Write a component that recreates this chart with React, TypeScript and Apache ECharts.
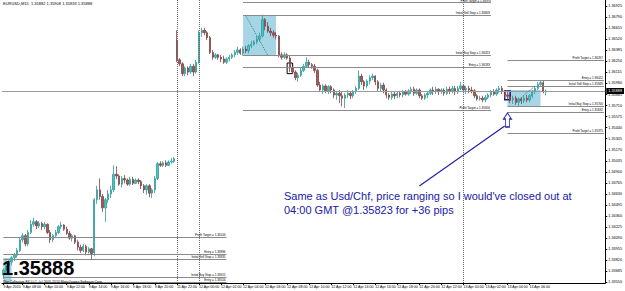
import React, { useEffect, useRef } from "react";
import * as echarts from "echarts";

// [open, close, low, high] — EURUSD M15, 9 Apr 06:15 .. 13 Apr 07:30
const ohlc: number[][] = [
  [1.3364, 1.3370, 1.3359, 1.3372], [1.3370, 1.3375, 1.3366, 1.3377], [1.3375, 1.3380, 1.3371, 1.3382], [1.3380, 1.3385, 1.3376, 1.3387],
  [1.3385, 1.3388, 1.3381, 1.3391], [1.3388, 1.3394, 1.3385, 1.3397], [1.3394, 1.3407, 1.3392, 1.3409], [1.3407, 1.3412, 1.3404, 1.3415],
  [1.3412, 1.3402, 1.3399, 1.3414], [1.3402, 1.3416, 1.3399, 1.3419], [1.3416, 1.3426, 1.3414, 1.3431], [1.3426, 1.3429, 1.3423, 1.3434],
  [1.3429, 1.3424, 1.3420, 1.3431], [1.3424, 1.3427, 1.3421, 1.3430], [1.3427, 1.3423, 1.3419, 1.3429], [1.3423, 1.3426, 1.3420, 1.3429],
  [1.3426, 1.3416, 1.3414, 1.3427], [1.3416, 1.3407, 1.3403, 1.3419], [1.3407, 1.3412, 1.3404, 1.3414], [1.3412, 1.3416, 1.3409, 1.3419],
  [1.3416, 1.3423, 1.3414, 1.3425], [1.3423, 1.3425, 1.3420, 1.3429], [1.3425, 1.3420, 1.3418, 1.3426], [1.3420, 1.3415, 1.3413, 1.3423],
  [1.3415, 1.3409, 1.3407, 1.3418], [1.3409, 1.3412, 1.3405, 1.3414], [1.3412, 1.3404, 1.3402, 1.3413], [1.3404, 1.3398, 1.3394, 1.3407],
  [1.3398, 1.3394, 1.3391, 1.3401], [1.3394, 1.3399, 1.3392, 1.3402], [1.3399, 1.3392, 1.3388, 1.3401], [1.3392, 1.3396, 1.3390, 1.3398],
  [1.3396, 1.3390, 1.3383, 1.3397], [1.3391, 1.3456, 1.3387, 1.3458], [1.3456, 1.3468, 1.3451, 1.3473], [1.3468, 1.3460, 1.3456, 1.3482],
  [1.3460, 1.3446, 1.3441, 1.3463], [1.3446, 1.3456, 1.3429, 1.3458], [1.3456, 1.3463, 1.3452, 1.3468], [1.3463, 1.3468, 1.3458, 1.3473],
  [1.3468, 1.3487, 1.3465, 1.3498], [1.3487, 1.3485, 1.3481, 1.3497], [1.3485, 1.3475, 1.3473, 1.3487], [1.3475, 1.3482, 1.3471, 1.3485],
  [1.3482, 1.3480, 1.3476, 1.3486], [1.3480, 1.3475, 1.3473, 1.3482], [1.3475, 1.3481, 1.3473, 1.3484], [1.3481, 1.3476, 1.3474, 1.3484],
  [1.3476, 1.3480, 1.3475, 1.3482], [1.3480, 1.3478, 1.3475, 1.3482], [1.3478, 1.3473, 1.3469, 1.3480], [1.3473, 1.3468, 1.3464, 1.3475],
  [1.3468, 1.3473, 1.3462, 1.3475], [1.3473, 1.3464, 1.3459, 1.3475], [1.3464, 1.3468, 1.3458, 1.3470], [1.3468, 1.3482, 1.3464, 1.3485],
  [1.3482, 1.3500, 1.3480, 1.3502], [1.3500, 1.3498, 1.3496, 1.3503], [1.3498, 1.3501, 1.3496, 1.3503], [1.3501, 1.3498, 1.3496, 1.3504],
  [1.3498, 1.3502, 1.3497, 1.3504], [1.3502, 1.3503, 1.3500, 1.3507], [1.3503, 1.3506, 1.3501, 1.3508],
  [1.3651, 1.3627, 1.3624, 1.3663], [1.3627, 1.3622, 1.3619, 1.3629], [1.3622, 1.3610, 1.3607, 1.3624], [1.3610, 1.3617, 1.3607, 1.3619],
  [1.3617, 1.3612, 1.3608, 1.3619], [1.3612, 1.3619, 1.3610, 1.3622], [1.3619, 1.3612, 1.3607, 1.3622], [1.3612, 1.3624, 1.3610, 1.3627],
  [1.3624, 1.3660, 1.3622, 1.3663], [1.3660, 1.3663, 1.3655, 1.3666], [1.3663, 1.3660, 1.3657, 1.3666], [1.3660, 1.3654, 1.3651, 1.3662],
  [1.3654, 1.3636, 1.3634, 1.3656], [1.3636, 1.3630, 1.3627, 1.3639], [1.3630, 1.3633, 1.3628, 1.3635], [1.3633, 1.3630, 1.3627, 1.3634],
  [1.3630, 1.3628, 1.3624, 1.3633], [1.3628, 1.3624, 1.3622, 1.3632], [1.3624, 1.3628, 1.3622, 1.3630], [1.3628, 1.3630, 1.3625, 1.3633],
  [1.3630, 1.3633, 1.3628, 1.3635], [1.3633, 1.3636, 1.3630, 1.3639], [1.3636, 1.3639, 1.3633, 1.3643], [1.3639, 1.3635, 1.3633, 1.3641],
  [1.3635, 1.3640, 1.3632, 1.3643], [1.3640, 1.3638, 1.3635, 1.3644], [1.3638, 1.3644, 1.3635, 1.3646], [1.3644, 1.3646, 1.3641, 1.3650],
  [1.3646, 1.3649, 1.3644, 1.3651], [1.3649, 1.3652, 1.3646, 1.3656], [1.3652, 1.3656, 1.3649, 1.3660], [1.3656, 1.3676, 1.3654, 1.3682],
  [1.3676, 1.3668, 1.3663, 1.3678], [1.3668, 1.3662, 1.3660, 1.3673], [1.3662, 1.3660, 1.3656, 1.3666], [1.3660, 1.3657, 1.3654, 1.3663],
  [1.3657, 1.3656, 1.3652, 1.3661], [1.3656, 1.3633, 1.3630, 1.3657], [1.3633, 1.3630, 1.3627, 1.3636], [1.3630, 1.3633, 1.3628, 1.3636],
  [1.3633, 1.3629, 1.3627, 1.3635], [1.3629, 1.3617, 1.3612, 1.3632], [1.3617, 1.3612, 1.3610, 1.3619], [1.3612, 1.3605, 1.3602, 1.3614],
  [1.3605, 1.3608, 1.3600, 1.3611], [1.3608, 1.3614, 1.3606, 1.3617], [1.3614, 1.3619, 1.3612, 1.3622], [1.3619, 1.3624, 1.3617, 1.3630],
  [1.3624, 1.3621, 1.3618, 1.3627], [1.3621, 1.3619, 1.3616, 1.3623], [1.3619, 1.3614, 1.3611, 1.3622], [1.3614, 1.3596, 1.3594, 1.3616],
  [1.3596, 1.3590, 1.3588, 1.3600], [1.3590, 1.3595, 1.3585, 1.3597], [1.3595, 1.3589, 1.3586, 1.3597], [1.3589, 1.3594, 1.3585, 1.3596],
  [1.3594, 1.3590, 1.3586, 1.3596], [1.3590, 1.3584, 1.3580, 1.3592], [1.3584, 1.3586, 1.3578, 1.3589], [1.3586, 1.3583, 1.3574, 1.3590],
  [1.3583, 1.3580, 1.3570, 1.3588], [1.3580, 1.3584, 1.3568, 1.3586], [1.3584, 1.3586, 1.3580, 1.3590], [1.3586, 1.3583, 1.3579, 1.3589],
  [1.3583, 1.3588, 1.3580, 1.3590], [1.3588, 1.3592, 1.3585, 1.3595], [1.3592, 1.3607, 1.3590, 1.3614], [1.3607, 1.3600, 1.3596, 1.3610],
  [1.3600, 1.3595, 1.3590, 1.3602], [1.3595, 1.3601, 1.3592, 1.3603], [1.3601, 1.3605, 1.3597, 1.3608], [1.3605, 1.3607, 1.3602, 1.3610],
  [1.3607, 1.3600, 1.3596, 1.3608], [1.3600, 1.3592, 1.3589, 1.3602], [1.3592, 1.3596, 1.3588, 1.3599], [1.3596, 1.3590, 1.3586, 1.3599],
  [1.3590, 1.3584, 1.3580, 1.3592], [1.3584, 1.3581, 1.3578, 1.3586], [1.3581, 1.3585, 1.3578, 1.3588], [1.3585, 1.3583, 1.3579, 1.3588],
  [1.3583, 1.3586, 1.3580, 1.3589], [1.3586, 1.3584, 1.3581, 1.3589], [1.3584, 1.3588, 1.3581, 1.3590], [1.3588, 1.3585, 1.3583, 1.3590],
  [1.3585, 1.3589, 1.3583, 1.3591], [1.3589, 1.3591, 1.3585, 1.3594], [1.3591, 1.3586, 1.3583, 1.3594], [1.3586, 1.3590, 1.3584, 1.3592],
  [1.3590, 1.3583, 1.3580, 1.3592], [1.3583, 1.3580, 1.3578, 1.3585], [1.3580, 1.3584, 1.3578, 1.3586], [1.3584, 1.3586, 1.3580, 1.3589],
  [1.3586, 1.3590, 1.3584, 1.3592], [1.3590, 1.3588, 1.3584, 1.3594], [1.3588, 1.3591, 1.3585, 1.3594], [1.3591, 1.3588, 1.3584, 1.3592],
  [1.3588, 1.3590, 1.3585, 1.3592], [1.3590, 1.3586, 1.3583, 1.3592], [1.3586, 1.3591, 1.3584, 1.3594], [1.3591, 1.3589, 1.3585, 1.3594],
  [1.3589, 1.3592, 1.3586, 1.3595], [1.3592, 1.3588, 1.3584, 1.3595], [1.3588, 1.3592, 1.3585, 1.3595], [1.3592, 1.3595, 1.3590, 1.3600],
  [1.3595, 1.3590, 1.3586, 1.3597], [1.3590, 1.3592, 1.3585, 1.3595], [1.3592, 1.3590, 1.3586, 1.3595], [1.3590, 1.3589, 1.3586, 1.3594],
  [1.3589, 1.3583, 1.3580, 1.3591], [1.3583, 1.3579, 1.3577, 1.3585], [1.3579, 1.3580, 1.3577, 1.3583], [1.3580, 1.3578, 1.3575, 1.3583],
  [1.3578, 1.3581, 1.3575, 1.3584], [1.3581, 1.3584, 1.3579, 1.3586], [1.3584, 1.3588, 1.3581, 1.3590], [1.3588, 1.3585, 1.3583, 1.3591],
  [1.3585, 1.3590, 1.3583, 1.3592], [1.3590, 1.3592, 1.3586, 1.3595], [1.3592, 1.3588, 1.3585, 1.3595], [1.3588, 1.3584, 1.3580, 1.3590],
  [1.3584, 1.35823, 1.3578, 1.3588], [1.3582, 1.3578, 1.3574, 1.3585], [1.3578, 1.3580, 1.3573, 1.3583], [1.3580, 1.3575, 1.3572, 1.3583],
  [1.3575, 1.3579, 1.3570, 1.3581], [1.3579, 1.3577, 1.3573, 1.3581], [1.3577, 1.3580, 1.3574, 1.3583], [1.3580, 1.3578, 1.3575, 1.3584],
  [1.3578, 1.3583, 1.3575, 1.3585], [1.3583, 1.3588, 1.3580, 1.3590], [1.3588, 1.3592, 1.3585, 1.3595], [1.3592, 1.3597, 1.3590, 1.3600],
  [1.3597, 1.3599, 1.3595, 1.3602], [1.3599, 1.3588, 1.3586, 1.3601], [1.35882, 1.35888, 1.35833, 1.35908],
];

// trading sessions of the M15 chart: [day of April, start minute of day, bars on axis]
const sessions: number[][] = [
  [9, 6 * 60 + 15, 63],
  [11, 22 * 60, 156],
];

// bottom time-scale labels: [bar index, text]
const timeLabels: [number, string][] = [
  [0, "9 Apr 2010"], [7, "9 Apr 08:00"], [15, "9 Apr 10:00"], [23, "9 Apr 12:00"], [31, "9 Apr 14:00"],
  [39, "9 Apr 16:00"], [47, "9 Apr 18:00"], [55, "9 Apr 20:00"], [63, "11 Apr 22:00"], [71, "12 Apr 00:00"],
  [79, "12 Apr 02:00"], [87, "12 Apr 04:00"], [95, "12 Apr 06:00"], [103, "12 Apr 08:00"], [111, "12 Apr 10:00"],
  [119, "12 Apr 12:00"], [127, "12 Apr 14:00"], [135, "12 Apr 16:00"], [143, "12 Apr 18:00"], [151, "12 Apr 20:00"],
  [159, "12 Apr 22:00"], [167, "13 Apr 00:00"], [175, "13 Apr 02:00"], [183, "13 Apr 04:00"], [191, "13 Apr 06:00"],
];

const priceTicks = [
  1.36925, 1.3679, 1.36655, 1.3652, 1.36385, 1.3625, 1.36115, 1.3598, 1.35845, 1.3571, 1.35575, 1.3544, 1.35305,
  1.3517, 1.35035, 1.349, 1.34765, 1.3463, 1.34495, 1.3436, 1.34225, 1.3409, 1.33955, 1.3382, 1.33685, 1.3355,
];
const priceMin = 1.33542;
const priceMax = 1.37;
const lastPrice = 1.35888;

// period separators (bar index)
const daySeparators = [63, 71, 167];

// trade levels: [name, price, from bar, to bar]
const tradeLevels: [string, number, number, number][] = [
  ["Profit Target", 1.36976, 87, 177],
  ["Initial Sell Stop", 1.36809, 87, 177],
  ["Initial Buy Stop", 1.36323, 87, 177],
  ["Entry", 1.36183, 87, 177],
  ["Profit Target", 1.35656, 87, 177],
  ["Profit Target", 1.36267, 183, 218],
  ["Entry", 1.36022, 183, 218],
  ["Initial Sell Stop", 1.35949, 183, 218],
  ["Initial Buy Stop", 1.357, 183, 218],
  ["Entry", 1.35632, 183, 218],
  ["Profit Target", 1.35375, 183, 218],
  ["Profit Target", 1.34104, 0, 81],
  ["Entry", 1.33896, 0, 81],
  ["Initial Sell Stop", 1.33835, 0, 81],
  ["Initial Buy Stop", 1.33615, 0, 81],
  ["Entry", 1.33554, 0, 81],
];

// range boxes: [from bar, top price, to bar, bottom price]
const rangeBoxes: number[][] = [
  [0, 1.33847, 3, 1.33542],
  [87, 1.36809, 99, 1.36323],
  [183, 1.359, 195, 1.357],
];
// dotted diagonals inside boxes: [bar, price, bar, price]
const boxDiagonals: number[][] = [
  [88, 1.36809, 96, 1.36323],
  [187, 1.3578, 193, 1.3595],
];
// highlighted bars: entry bar and exit bar
const entryBox = [103, 1.3623, 105, 1.361];
const exitBox = [182, 1.35888, 184, 1.3578];
// annotation pointer
const pointerLine = [151, 1.34727, 182, 1.3546];
const arrowAt = [183, 1.35534];

const title = "EURUSD,M15  1.35882 1.35908 1.35833 1.35888";
const note1 = "Same as Usd/Chf, price ranging so I would've closed out at";
const note2 = "04:00 GMT @1.35823 for +36 pips";
const copyright = "The Collective FX LLC, (c) 2001-2010 MetaQuotes Software Corp.";

function buildTimes(): string[] {
  const out: string[] = [];
  for (const [day, start, bars] of sessions) {
    for (let k = 0; k < bars; k++) {
      const m = start + k * 15;
      const d = day + Math.floor(m / 1440);
      const mm = m % 1440;
      const hh = String(Math.floor(mm / 60)).padStart(2, "0");
      const mi = String(mm % 60).padStart(2, "0");
      out.push(`${d} Apr ${hh}:${mi}`);
    }
  }
  return out;
}

const FONT = "'Liberation Sans', Arial, sans-serif";
const BLUE = "#2020a4";

export default function App() {
  const ref = useRef<HTMLDivElement>(null);
  useEffect(() => {
    if (!ref.current) return;
    const chart = echarts.init(ref.current, undefined, { renderer: "svg" });
    const times = buildTimes();
    const labelMap = new Map<number, string>(timeLabels);

    const lineData: any[] = [];
    tradeLevels.forEach(([name, price, from, to], idx) => {
      lineData.push([
        {
          coord: [from, price],
          label: {
            show: true,
            formatter: `${name} = ${price.toFixed(5)}`,
            distance: idx === 0 ? 0 : 1,
          },
        },
        { coord: [to, price] },
      ]);
    });
    daySeparators.forEach((i) =>
      lineData.push({
        xAxis: i,
        lineStyle: { type: "dotted", color: "#6a6a6a", width: 1 },
        label: { show: false },
      })
    );
    lineData.push({
      yAxis: lastPrice,
      lineStyle: { color: "#9a9a9a", width: 1, type: "solid" },
      label: {
        show: true,
        position: "end",
        formatter: lastPrice.toFixed(5),
        backgroundColor: "#000",
        color: "#fff",
        fontSize: 3.8,
        padding: [1, 2],
        distance: 1,
      },
    });
    boxDiagonals.forEach(([a, p, b, q]) =>
      lineData.push([
        { coord: [a, p], lineStyle: { type: "dotted", color: "#4f7585", width: 1 }, label: { show: false } },
        { coord: [b, q] },
      ])
    );
    lineData.push([
      { coord: [pointerLine[0], pointerLine[1]], lineStyle: { color: BLUE, width: 1.2, type: "solid" }, label: { show: false } },
      { coord: [pointerLine[2], pointerLine[3]] },
    ]);

    const areaData: any[] = rangeBoxes.map(([a, p, b, q]) => [
      { coord: [a, p], itemStyle: { color: "#a6d6e6" } },
      { coord: [b, q] },
    ]);
    areaData.push([
      { coord: [entryBox[0], entryBox[1]], itemStyle: { color: "rgba(0,0,0,0)", borderColor: "#000", borderWidth: 1 } },
      { coord: [entryBox[2], entryBox[3]] },
    ]);
    areaData.push([
      { coord: [exitBox[0], exitBox[1]], itemStyle: { color: "rgba(0,0,0,0)", borderColor: "#1c1c8c", borderWidth: 1.5 } },
      { coord: [exitBox[2], exitBox[3]] },
    ]);

    chart.setOption({
      animation: false,
      backgroundColor: "#fff",
      textStyle: { fontFamily: FONT },
      grid: { left: 2, right: 19, top: 0, bottom: 8, containLabel: false },
      xAxis: {
        type: "category",
        data: times,
        boundaryGap: true,
        axisLine: { show: true, lineStyle: { color: "#000", width: 1 } },
        axisTick: {
          show: true,
          length: 2,
          alignWithLabel: true,
          interval: (i: number) => labelMap.has(i),
          lineStyle: { color: "#000" },
        },
        axisLabel: {
          interval: (i: number) => labelMap.has(i),
          formatter: (_v: string, i: number) => labelMap.get(i) ?? "",
          fontSize: 3.6,
          color: "#000",
          align: "left",
          margin: 2,
        },
        splitLine: { show: false },
      },
      yAxis: {
        type: "value",
        position: "right",
        min: priceMin,
        max: priceMax,
        scale: true,
        axisLine: { show: true, lineStyle: { color: "#000", width: 1 } },
        axisTick: { show: true, length: 2, customValues: priceTicks, lineStyle: { color: "#000" } },
        axisLabel: {
          customValues: priceTicks,
          formatter: (v: number) => v.toFixed(5),
          fontSize: 3.8,
          color: "#000",
          margin: 3,
        },
        splitLine: { show: false },
      },
      series: [
        {
          type: "candlestick",
          data: ohlc,
          barWidth: 1.9,
          z: 3,
          itemStyle: {
            color: "#45c5c5",
            color0: "#9e5c5c",
            borderColor: "#2f9a9a",
            borderColor0: "#7e4444",
            borderWidth: 0.8,
          },
          markArea: {
            silent: true,
            z: 1,
            label: { show: false },
            data: areaData,
          },
          markLine: {
            silent: true,
            symbol: ["none", "none"],
            precision: 5,
            lineStyle: { color: "#8a8a8a", width: 1, type: "solid" },
            label: {
              position: "insideEndTop",
              fontSize: 3,
              color: "#000",
              distance: 1,
            },
            data: lineData,
          },
          markPoint: {
            silent: true,
            data: [
              {
                coord: arrowAt,
                symbol: "path://M4,0 L8,6 L6,6 L6,14 L2,14 L2,6 L0,6 Z",
                symbolSize: [8, 14],
                itemStyle: { color: "#fff", borderColor: BLUE, borderWidth: 1 },
                label: { show: false },
              },
            ],
          },
        },
      ],
      graphic: [
        { type: "text", left: 3, top: 1, z: 100, style: { text: title, fontSize: 4, fill: "#000", fontFamily: FONT } },
        { type: "text", left: 284, top: 190, z: 100, style: { text: note1, fontSize: 11, fill: BLUE, fontFamily: FONT } },
        { type: "text", left: 284, top: 204, z: 100, style: { text: note2, fontSize: 11, fill: BLUE, fontFamily: FONT } },
        {
          type: "text",
          left: 2,
          top: 258,
          z: 100,
          style: { text: lastPrice.toFixed(5), fontSize: 20, fontWeight: "bold", fill: "#000", fontFamily: FONT },
        },
        { type: "text", left: 3, top: 280.5, z: 100, style: { text: copyright, fontSize: 3.4, fill: "#000", fontFamily: FONT } },
      ],
    });
    return () => chart.dispose();
  }, []);
  return <div ref={ref} style={{ position: "absolute", left: 0, top: 0, width: 625, height: 291 }} />;
}
